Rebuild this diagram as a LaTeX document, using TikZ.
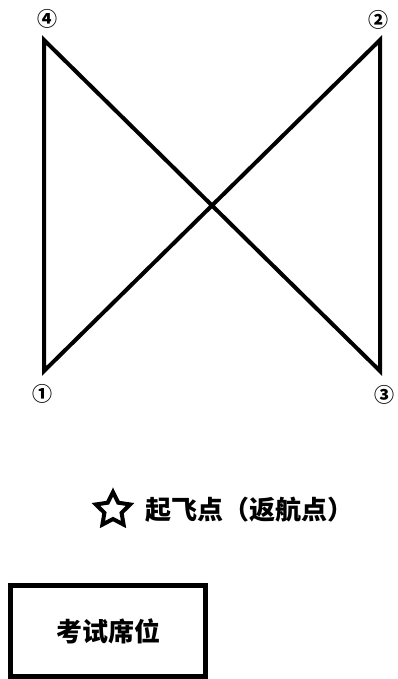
\documentclass[tikz,border=0pt]{standalone}
\usepackage{fontspec}
\usepackage{tikz}
\usetikzlibrary{shapes.geometric}
\newfontfamily\cjk{Noto Sans CJK SC}

\begin{document}
\begin{tikzpicture}[
    x=1pt, y=-1pt,
    num/.style={font=\cjk\bfseries\fontsize{20}{20}\selectfont, inner sep=0pt},
    edge/.style={line width=4pt, line join=miter},
    label/.style={font=\cjk\bfseries\fontsize{26}{26}\selectfont, inner sep=0pt},
    seat/.style={draw, line width=5pt, minimum width=195pt, minimum height=91pt,
        font=\cjk\bfseries\fontsize{26}{26}\selectfont},
    homestar/.style={star, star points=5, star point ratio=2.0, draw, line width=4pt,
        line join=miter, minimum size=36pt, inner sep=0pt}
]
    \useasboundingbox (0,0) rectangle (397,679);
    \coordinate (c1) at (44,371);
    \coordinate (c2) at (380,40);
    \coordinate (c3) at (380,371);
    \coordinate (c4) at (44,40);
    \node[num] (n1) at (42,394) {①};
    \node[num] (n2) at (378,20) {②};
    \node[num] (n3) at (384,395) {③};
    \node[num] (n4) at (47,19) {④};
    \draw[edge] (c1) -- (c2) -- (c3) -- (c4) -- cycle;
    \node[homestar] (home) at (113,510) {};
    \node[label, anchor=west] (takeoff) at (145,510) {起飞点（返航点）};
    \node[seat] (desk) at (108,631) {考试席位};
\end{tikzpicture}
\end{document}
